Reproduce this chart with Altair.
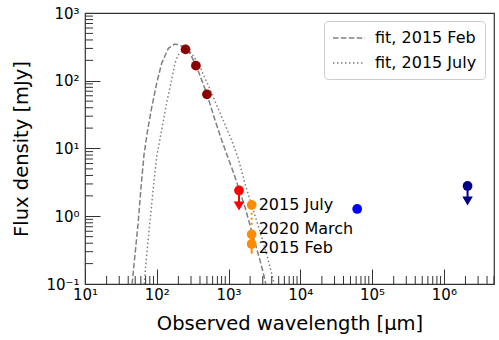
import altair as alt
import pandas as pd

FONT = "DejaVu Sans"

# ---- fit curves ----
fit_feb_wl = [45.3, 45.6, 49.7, 55.2, 60.2, 66.3, 74.7, 84.9, 99.7, 117, 145, 179, 224, 290, 359,
              496, 647, 802, 991, 1228, 1691, 2208, 2736, 3140, 3300]
fit_feb_flux = [0.1, 0.108, 0.268, 0.83, 2.61, 8.0, 18.8, 40, 91.7, 181, 301, 349, 326, 254, 161,
                65.3, 26.4, 13.3, 7.16, 3.84, 1.38, 0.499, 0.226, 0.128, 0.1]
fit_jul_wl = [66.8, 68.5, 72.3, 80.4, 89.4, 99.7, 117, 137, 161, 179, 199, 247, 306, 400, 582,
              802, 1104, 1365, 1691, 2208, 2891, 3573, 4195, 4340]
fit_jul_flux = [0.1, 0.136, 0.268, 0.83, 2.59, 7.57, 18.8, 46.5, 103, 181, 240, 304, 254, 161, 65.3,
                29.4, 13.3, 7.16, 3.06, 1.24, 0.499, 0.226, 0.115, 0.1]
fit_names = ["fit, 2015 Feb", "fit, 2015 July"]

# ---- detections ----
det_wl = [252, 351, 500, 1400, 2100, 2100, 2100, 62000, 2.14e6]
det_flux = [291, 167, 63, 2.4, 1.47, 0.54, 0.39, 1.28, 2.8]
det_group = ["submm", "submm", "submm", "mm limit", "2 mm", "2 mm", "2 mm", "cm", "radio limit"]
group_names = ["submm", "mm limit", "2 mm", "cm", "radio limit"]
group_colors = ["#8b0000", "#ff0000", "#ff8c00", "#0000ff", "#00008b"]

# ---- upper limits ----
lim_wl = [1400, 2.14e6]
lim_flux = [2.4, 2.8]
lim_low = [1.42, 1.68]
lim_group = ["mm limit", "radio limit"]

# ---- 2 mm error bars ----
err_solid_wl = [2100]
err_solid_lo = [0.28]
err_solid_hi = [0.50]
err_dot_wl = [2100]
err_dot_lo = [0.75]
err_dot_hi = [1.47]

# ---- epoch labels ----
lab_wl = [2100, 2100, 2100]
lab_y = [1.24, 0.547, 0.284]
lab_text = ["2015 July", "2020 March", "2015 Feb"]

# ---- ticks ----
x_major = [10.0, 100.0, 1000.0, 1e4, 1e5, 1e6]
x_major_labels = ["10¹", "10²", "10³", "10⁴", "10⁵", "10⁶"]
y_major = [0.1, 1.0, 10.0, 100.0, 1000.0]
y_major_labels = ["10⁻¹", "10⁰", "10¹", "10²", "10³"]
x_minor = [m * 10.0 ** k for k in range(1, 7) for m in range(2, 10) if m * 10.0 ** k <= 5e6]
y_minor = [m * 10.0 ** k for k in range(-1, 3) for m in range(2, 10)]


def label_expr(vals, labels):
    expr = "''"
    for v, l in reversed(list(zip(vals, labels))):
        expr = f"abs(datum.value - {v!r}) < {v * 1e-6!r} ? '{l}' : ({expr})"
    return expr


xscale = alt.Scale(type="log", domain=[10, 5e6], nice=False)
yscale = alt.Scale(type="log", domain=[0.1, 1000], nice=False)

xaxis = alt.Axis(values=x_major, labelExpr=label_expr(x_major, x_major_labels), tickSize=15,
                 offset=-15, domain=False, grid=False, labelPadding=3, labelFlush=False,
                 labelOverlap=False, labelFontSize=15, labelFont=FONT, labelColor="black",
                 tickColor="#333", tickWidth=1, title="Observed wavelength [μm]",
                 titleFontSize=19.5, titleFont=FONT, titleFontWeight="normal", titleColor="black",
                 titlePadding=12)
yaxis = alt.Axis(values=y_major, labelExpr=label_expr(y_major, y_major_labels), tickSize=15,
                 offset=-15, domain=False, grid=False, labelPadding=6, labelFlush=False,
                 labelOverlap=False, labelFontSize=15, labelFont=FONT, labelColor="black",
                 tickColor="#333", tickWidth=1, title="Flux density [mJy]",
                 titleFontSize=19.5, titleFont=FONT, titleFontWeight="normal", titleColor="black",
                 titlePadding=14)

X = lambda f: alt.X(f, scale=xscale, axis=xaxis)
Y = lambda f: alt.Y(f, scale=yscale, axis=yaxis)

fits_df = pd.concat([
    pd.DataFrame({"wl": fit_feb_wl, "flux": fit_feb_flux, "fit": fit_names[0]}),
    pd.DataFrame({"wl": fit_jul_wl, "flux": fit_jul_flux, "fit": fit_names[1]}),
])
det_df = pd.DataFrame({"wl": det_wl, "flux": det_flux, "grp": det_group})
lim_df = pd.DataFrame({"wl": lim_wl, "flux": lim_flux, "low": lim_low, "grp": lim_group})
err_s_df = pd.DataFrame({"wl": err_solid_wl, "lo": err_solid_lo, "hi": err_solid_hi})
err_d_df = pd.DataFrame({"wl": err_dot_wl, "lo": err_dot_lo, "hi": err_dot_hi})
lab_df = pd.DataFrame({"wl": lab_wl, "y": lab_y, "text": lab_text})
xminor_df = pd.DataFrame({"v": x_minor})
yminor_df = pd.DataFrame({"v": y_minor})

color = alt.Color("grp:N", scale=alt.Scale(domain=group_names, range=group_colors), legend=None)

fits = alt.Chart(fits_df).mark_line(color="#808080", strokeWidth=1.5, clip=True).encode(
    x=X("wl:Q"), y=Y("flux:Q"),
    strokeDash=alt.StrokeDash(
        "fit:N",
        scale=alt.Scale(domain=fit_names, range=[[5.5, 2.4], [1.5, 2.5]]),
        legend=alt.Legend(title=None, orient="none", legendX=239, legendY=8,
                          symbolType="M-2,0H2", symbolSize=256, symbolStrokeWidth=1.5,
                          symbolStrokeColor="#808080", symbolOffset=8,
                          labelFontSize=16, labelFont=FONT,
                          labelColor="black", strokeColor="#cccccc", fillColor="white",
                          cornerRadius=4, padding=8, rowPadding=8, labelOffset=17)),
)

err_s = alt.Chart(err_s_df).mark_rule(color="#ff8c00", strokeWidth=2).encode(
    x=X("wl:Q"), y=Y("lo:Q"), y2="hi:Q")
err_d = alt.Chart(err_d_df).mark_rule(color="#ff8c00", strokeWidth=2, strokeDash=[2, 3]).encode(
    x=X("wl:Q"), y=Y("lo:Q"), y2="hi:Q")

lim_line = alt.Chart(lim_df).mark_rule(strokeWidth=2).encode(
    x=X("wl:Q"), y=Y("flux:Q"), y2="low:Q", color=color)
lim_tri = alt.Chart(lim_df).mark_point(shape="triangle-down", filled=True, size=110, opacity=1).encode(
    x=X("wl:Q"), y=Y("low:Q"), color=color)

pts = alt.Chart(det_df).mark_circle(size=95, opacity=1).encode(
    x=X("wl:Q"), y=Y("flux:Q"), color=color)

labels = alt.Chart(lab_df).mark_text(align="left", baseline="alphabetic", dx=7, fontSize=16,
                                     font=FONT, color="black").encode(
    x=X("wl:Q"), y=Y("y:Q"), text="text:N")

xminor = alt.Chart(xminor_df).mark_rule(color="#333", strokeWidth=1).encode(
    x=X("v:Q"), y=alt.value(271), y2=alt.value(263))
yminor = alt.Chart(yminor_df).mark_rule(color="#333", strokeWidth=1).encode(
    y=Y("v:Q"), x=alt.value(0), x2=alt.value(8))

chart = alt.layer(fits, err_s, err_d, lim_line, lim_tri, pts, labels, xminor, yminor).properties(
    width=409, height=271,
    autosize=alt.AutoSizeParams(type="none"),
    padding={"left": 85, "top": 13, "right": 5, "bottom": 56},
).configure(font=FONT).configure_view(stroke="#333", strokeWidth=1.2)

chart.save("out.html", embed_options={"renderer": "svg", "actions": False})
